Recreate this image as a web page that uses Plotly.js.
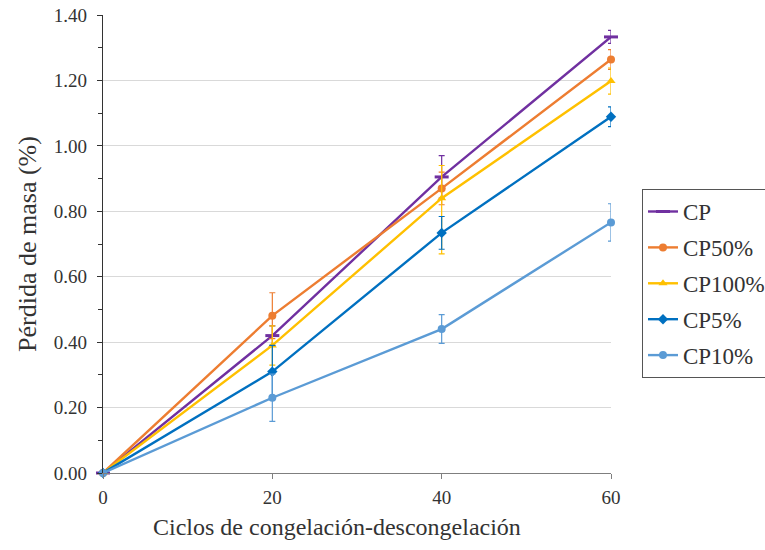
<!DOCTYPE html>
<html><head><meta charset="utf-8">
<script src="https://cdn.plot.ly/plotly-3.0.1.min.js"></script>
<style>body{margin:0;background:#fff}#c{width:765px;height:550px}</style>
</head><body><div id="c"></div>
<script>
const cycles = [0, 20, 40, 60];
const seriesNames = ["CP", "CP50%", "CP100%", "CP5%", "CP10%"];
const cp      = [0, 0.42, 0.905, 1.333];
const cp50    = [0, 0.481, 0.87, 1.264];
const cp100   = [0, 0.39, 0.84, 1.198];
const cp5     = [0, 0.31, 0.734, 1.089];
const cp10    = [0, 0.23, 0.44, 0.766];
const cpErr         = [0, 0.03, 0.065, 0.02];
const cp50Err       = [0, 0.07, 0.05, 0.03];
const cp100ErrUp    = [0, 0.06, 0.10, 0.04];
const cp100ErrDown  = [0, 0.06, 0.17, 0.04];
const cp5Err        = [0, 0.08, 0.05, 0.03];
const cp10Err       = [0, 0.072, 0.044, 0.057];
const yTicks = [0, 0.2, 0.4, 0.6, 0.8, 1.0, 1.2, 1.4];
const xTicks = [0, 20, 40, 60];
const xTitle = "Ciclos de congelación-descongelación";
const yTitle = "Pérdida de masa (%)";

const colors = ["#7030A0", "#ED7D31", "#FFC000", "#0070C0", "#5B9BD5"];
const symbols = ["line-ew", "circle", "triangle-up", "diamond", "circle"];
const values = [cp, cp50, cp100, cp5, cp10];
const errUp = [cpErr, cp50Err, cp100ErrUp, cp5Err, cp10Err];
const errDown = [cpErr, cp50Err, cp100ErrDown, cp5Err, cp10Err];

const traces = seriesNames.map((n, i) => ({
  x: cycles, y: values[i], name: n, type: "scatter", mode: "lines+markers",
  legendgroup: "g" + i,
  line: {color: colors[i], width: 2.4},
  marker: {color: colors[i], symbol: symbols[i], size: symbols[i] === "line-ew" ? 10 : 8,
           line: {color: colors[i], width: symbols[i] === "line-ew" ? 3 : 0}},
  error_y: {type: "data", symmetric: false, array: errUp[i], arrayminus: errDown[i], visible: true,
            color: colors[i], thickness: 1.2, width: 3},
  cliponaxis: false
}));

const fam = "'Liberation Serif', 'Times New Roman', serif";
Plotly.newPlot("c", traces, {
  width: 765, height: 550,
  margin: {l: 103, r: 154, t: 15, b: 77, autoexpand: false},
  paper_bgcolor: "#fff", plot_bgcolor: "#fff",
  font: {family: fam, color: "#333", size: 19},
  showlegend: true,
  legend: {x: 1.061, y: 0.62, xanchor: "left", yanchor: "top",
           bordercolor: "#555", borderwidth: 1, bgcolor: "#fff",
           font: {family: fam, size: 23, color: "#333"},
           traceorder: "grouped", tracegroupgap: 3, itemwidth: 30},
  annotations: [{text: xTitle, xref: "paper", yref: "paper", x: 0.461, y: -0.118,
                 xanchor: "center", yanchor: "middle", showarrow: false,
                 font: {family: fam, size: 24, color: "#333"}}],
  xaxis: {range: [0, 60], tickvals: xTicks, ticktext: xTicks.map(String), automargin: false,
          showgrid: false, zeroline: false, showline: true, linecolor: "#7f7f7f", linewidth: 1.3,
          ticks: "outside", ticklen: 5, tickcolor: "#7f7f7f", ticklabelstandoff: 2,
          tickfont: {family: fam, size: 19, color: "#333"}},
  yaxis: {range: [0, 1.4], tickvals: yTicks, ticktext: yTicks.map(v => v.toFixed(2)), automargin: false,
          showgrid: true, gridcolor: "#d9d9d9", gridwidth: 1, zeroline: false,
          showline: true, linecolor: "#333", linewidth: 1.3,
          ticks: "outside", ticklen: 5, tickcolor: "#333", ticklabelstandoff: 6,
          minor: {dtick: 0.1, ticks: "outside", ticklen: 4, tickcolor: "#333", showgrid: false},
          tickfont: {family: fam, size: 19, color: "#333"},
          title: {text: yTitle, font: {family: fam, size: 26, color: "#333"}, standoff: 9}}
}, {displayModeBar: false, staticPlot: true});
</script></body></html>
